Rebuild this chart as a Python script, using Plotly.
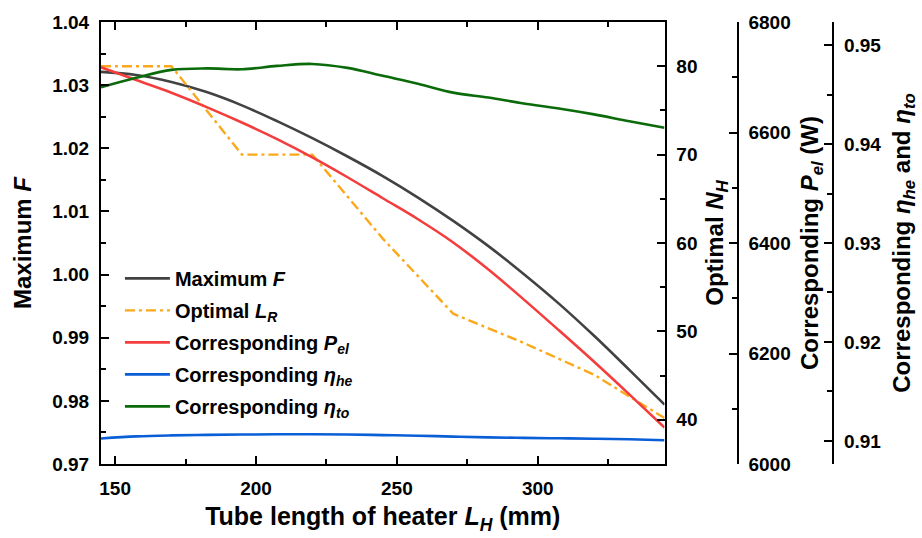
import plotly.graph_objects as go

# ---- data ----
L_fine = [145, 157.5, 170, 182.5, 195, 207.5, 220, 232.5, 245, 257.5, 270,
          282.5, 295, 307.5, 320, 332.5, 345]
max_F = [1.0321, 1.0316, 1.0305, 1.0289, 1.0268, 1.0243, 1.0216, 1.0187, 1.0156,
         1.0122, 1.0085, 1.0045, 1.0001, 0.9954, 0.9903, 0.9849, 0.9794]
P_el = [6718, 6695, 6672, 6646, 6618, 6588, 6555, 6519, 6481, 6443, 6401,
        6352, 6298, 6242, 6185, 6126, 6066]
eta_he = [0.91024, 0.91045, 0.91055, 0.91060, 0.91064, 0.91066, 0.91067, 0.91064,
          0.91058, 0.91052, 0.91043, 0.91035, 0.91030, 0.91026, 0.91022, 0.91016, 0.91006]
eta_to = [0.94574, 0.9467, 0.9475, 0.94765, 0.94756, 0.9479, 0.9481, 0.9477, 0.9469,
          0.9461, 0.9452, 0.9447, 0.9441, 0.9436, 0.9430, 0.9423, 0.94165]

L_coarse = [145, 170, 195, 220, 245, 270, 295, 320, 345]
opt_N = [80, 80, 70, 70, 60.5, 52, 48.7, 45.1, 40.2]

FONT = "Liberation Sans, Arial, sans-serif"
C_GRAY = "#424242"
C_ORANGE = "#FBA81A"
C_RED = "#F43E3E"
C_BLUE = "#0A5ED6"
C_GREEN = "#0B6B0B"

fig = go.Figure()
fig.add_trace(go.Scatter(x=L_fine, y=max_F, mode="lines", name="Maximum <i>F</i>", legendgroup="a",
                         line=dict(color=C_GRAY, width=2.6, shape="spline"), yaxis="y"))
fig.add_trace(go.Scatter(x=L_coarse, y=opt_N, mode="lines", name="Optimal <i>L</i><sub><i>R</i></sub>",
                         legendgroup="b",
                         line=dict(color=C_ORANGE, width=2.4, dash="10px,4px,3px,4px"), yaxis="y2"))
fig.add_trace(go.Scatter(x=L_fine, y=P_el, mode="lines", name="Corresponding <i>P</i><sub><i>el</i></sub>",
                         legendgroup="c",
                         line=dict(color=C_RED, width=2.6, shape="spline"), yaxis="y3"))
fig.add_trace(go.Scatter(x=L_fine, y=eta_he, mode="lines", name="Corresponding <i>η</i><sub><i>he</i></sub>",
                         legendgroup="d",
                         line=dict(color=C_BLUE, width=2.6, shape="spline"), yaxis="y4"))
fig.add_trace(go.Scatter(x=L_fine, y=eta_to, mode="lines", name="Corresponding <i>η</i><sub><i>to</i></sub>",
                         legendgroup="e",
                         line=dict(color=C_GREEN, width=2.6, shape="spline"), yaxis="y4"))

tickfont = dict(family=FONT, size=19, color="black", weight="bold")
titlefont = dict(family=FONT, size=24, color="black", weight="bold")
axcommon = dict(showline=True, linecolor="black", linewidth=2, ticks="inside", ticklen=8,
                tickwidth=2, tickcolor="black", showgrid=False, zeroline=False,
                tickfont=tickfont, ticklabelstandoff=6)
minor = lambda d: dict(dtick=d, ticks="inside", ticklen=5, tickwidth=2, tickcolor="black", showgrid=False)

XDOM = 0.7234
fig.update_layout(
    width=922, height=538,
    margin=dict(l=101, r=40, t=20, b=73),
    paper_bgcolor="white", plot_bgcolor="white",
    font=dict(family=FONT, color="black"),
    showlegend=True,
    legend=dict(x=0.0243, y=0.464, xanchor="left", yanchor="top", bgcolor="rgba(0,0,0,0)",
                font=dict(family=FONT, size=20, color="black", weight="bold"),
                traceorder="grouped", tracegroupgap=3, itemwidth=45),
    xaxis=dict(domain=[0, XDOM], range=[145, 345], tick0=150, dtick=50, mirror="ticks",
               minor=minor(25),
               title=dict(text="Tube length of heater <i>L</i><sub><i>H</i></sub> (mm)",
                          font=dict(family=FONT, size=25, color="black", weight="bold"), standoff=10),
               **axcommon),
    yaxis=dict(range=[0.97, 1.04], dtick=0.01, tick0=0.97, tickformat=".2f",
               minor=minor(0.005),
               title=dict(text="Maximum <i>F</i>", font=titlefont, standoff=14),
               **axcommon),
    yaxis2=dict(range=[35, 85], tick0=40, dtick=10, overlaying="y", side="right", anchor="x",
                minor=minor(5),
                title=dict(text="Optimal <i>N</i><sub><i>H</i></sub>", font=titlefont, standoff=10),
                **axcommon),
    yaxis3=dict(range=[6000, 6800], dtick=200, tick0=6000, overlaying="y", side="right",
                anchor="free", position=0.8173, minor=minor(100),
                title=dict(text="Corresponding <i>P</i><sub><i>el</i></sub> (W)", font=titlefont, standoff=10),
                **axcommon),
    yaxis4=dict(range=[0.90766, 0.95234], dtick=0.01, tick0=0.91, tickformat=".2f",
                overlaying="y", side="right", anchor="free", position=0.9398, minor=minor(0.005),
                title=dict(text="Corresponding <i>η</i><sub><i>he</i></sub> and <i>η</i><sub><i>to</i></sub>",
                           font=titlefont, standoff=12),
                **axcommon),
)

fig.write_html("out.html")
